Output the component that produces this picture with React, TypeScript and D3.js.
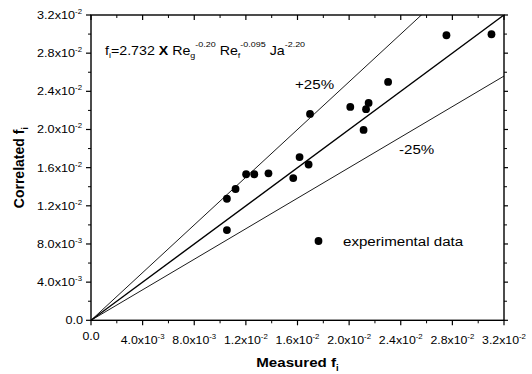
import React from "react";
import * as d3 from "d3";

const measured = [0.02754, 0.03103, 0.02302, 0.02009, 0.02151, 0.02131, 0.01697, 0.02112, 0.01616, 0.01686, 0.01567, 0.01375, 0.01202, 0.01265, 0.0112, 0.01053, 0.01053];
const correlated = [0.02988, 0.02998, 0.02499, 0.02236, 0.02278, 0.02213, 0.02163, 0.01995, 0.01711, 0.01633, 0.01491, 0.01541, 0.01531, 0.01531, 0.01376, 0.01274, 0.00946];
const majorTicks = [0, 0.004, 0.008, 0.012, 0.016, 0.02, 0.024, 0.028, 0.032];
const minorTicks = [0.002, 0.006, 0.01, 0.014, 0.018, 0.022, 0.026, 0.03];
const bandFactors = [1.25, 1, 0.8];

const W = 532, H = 374;
const L = 91, R = 504, T = 15, B = 320.3;
const FONT = "'Liberation Sans', Arial, sans-serif";
const SX = 1.12;

function tickParts(v: number): [string, string] {
  if (v === 0) return ["0.0", ""];
  const e = Math.floor(Math.log10(v) + 1e-9);
  const m = v / Math.pow(10, e);
  return [m.toFixed(1) + "x10", String(e)];
}

function SText(props: { x: number; y: number; anchor?: string; size: number; bold?: boolean; children: any }) {
  return (
    <g transform={`translate(${props.x},${props.y}) scale(${SX},1)`}>
      <text x={0} y={0} fontSize={props.size} fontWeight={props.bold ? "bold" : "normal"} textAnchor={props.anchor || "start"} fill="#000">
        {props.children}
      </text>
    </g>
  );
}

export default function App() {
  const x = d3.scaleLinear().domain([0, 0.032]).range([L, R]);
  const y = d3.scaleLinear().domain([0, 0.032]).range([B, T]);
  const lineGen = (k: number) =>
    d3.line<[number, number]>().x((d) => x(d[0])).y((d) => y(d[1]))([[0, 0], [0.04, 0.04 * k]]) || "";

  return (
    <svg width={W} height={H} style={{ position: "absolute", left: 0, top: 0, background: "#fff" }} fontFamily={FONT}>
      <defs>
        <clipPath id="plotclip">
          <rect x={L} y={T} width={R - L} height={B - T} />
        </clipPath>
      </defs>
      <rect x={0} y={0} width={W} height={H} fill="#fff" />
      <g clipPath="url(#plotclip)">
        {bandFactors.map((k) => (
          <path key={k} d={lineGen(k)} stroke="#000" strokeWidth={k === 1 ? 1.4 : 0.9} fill="none" />
        ))}
      </g>
      <rect x={L} y={T} width={R - L} height={B - T} fill="none" stroke="#000" strokeWidth={1.4} />
      {majorTicks.map((t) => (
        <line key={"bx" + t} x1={x(t)} x2={x(t)} y1={B} y2={B + 5} stroke="#000" strokeWidth={1.2} />
      ))}
      {minorTicks.map((t) => (
        <line key={"bxm" + t} x1={x(t)} x2={x(t)} y1={B} y2={B + 3} stroke="#000" strokeWidth={1} />
      ))}
      {majorTicks.map((t) => (
        <line key={"tx" + t} x1={x(t)} x2={x(t)} y1={T} y2={T + 5} stroke="#000" strokeWidth={1.2} />
      ))}
      {minorTicks.map((t) => (
        <line key={"txm" + t} x1={x(t)} x2={x(t)} y1={T} y2={T + 3} stroke="#000" strokeWidth={1} />
      ))}
      {majorTicks.map((t) => (
        <line key={"ly" + t} x1={L - 5} x2={L} y1={y(t)} y2={y(t)} stroke="#000" strokeWidth={1.2} />
      ))}
      {minorTicks.map((t) => (
        <line key={"lym" + t} x1={L - 3} x2={L} y1={y(t)} y2={y(t)} stroke="#000" strokeWidth={1} />
      ))}
      {majorTicks.map((t) => (
        <line key={"ry" + t} x1={R} x2={R + 4} y1={y(t)} y2={y(t)} stroke="#000" strokeWidth={1.2} />
      ))}
      {minorTicks.map((t) => (
        <line key={"rym" + t} x1={R} x2={R + 3} y1={y(t)} y2={y(t)} stroke="#000" strokeWidth={1} />
      ))}
      {majorTicks.map((t) => {
        const [a, e] = tickParts(t);
        return (
          <SText key={"xl" + t} x={x(t)} y={e ? 343.5 : 340} size={11} anchor="middle">
            {a}
            {e && (
              <tspan fontSize={7} dy={-5}>
                {e}
              </tspan>
            )}
          </SText>
        );
      })}
      {majorTicks.map((t) => {
        const [a, e] = tickParts(t);
        return (
          <SText key={"yl" + t} x={e ? 82 : 83} y={y(t) + 4} size={11.3} anchor="end">
            {a}
            {e && (
              <tspan fontSize={7} dy={-5}>
                {e}
              </tspan>
            )}
          </SText>
        );
      })}
      <SText x={(L + R) / 2} y={367} size={13.5} bold anchor="middle">
        Measured f<tspan fontSize={8.5} dy={4}>i</tspan>
      </SText>
      <text transform={`translate(24,${(T + B) / 2}) rotate(-90)`} fontSize={14} fontWeight="bold" textAnchor="middle" fill="#000">
        Correlated f<tspan fontSize={9} dy={4}>i</tspan>
      </text>
      <SText x={105} y={55} size={12.7}>
        f<tspan fontSize={8} dy={3}>i</tspan>
        <tspan dy={-3}>=2.732 </tspan>
        <tspan fontWeight="bold">X</tspan>
        <tspan> Re</tspan>
        <tspan fontSize={8} dy={3}>g</tspan>
        <tspan fontSize={8} dy={-11}>-0.20</tspan>
        <tspan dy={8}> Re</tspan>
        <tspan fontSize={8} dy={3}>f</tspan>
        <tspan fontSize={8} dy={-11}>-0.095</tspan>
        <tspan dy={8}> Ja</tspan>
        <tspan fontSize={8} dy={-8}>-2.20</tspan>
      </SText>
      <SText x={295} y={89} size={13.5}>+25%</SText>
      <SText x={399} y={154} size={13.5}>-25%</SText>
      {measured.map((m, i) => (
        <circle key={"p" + i} cx={x(m)} cy={y(correlated[i])} r={3.9} fill="#000" />
      ))}
      <circle cx={318.5} cy={241} r={3.9} fill="#000" />
      <SText x={343} y={246} size={13.5}>experimental data</SText>
    </svg>
  );
}
